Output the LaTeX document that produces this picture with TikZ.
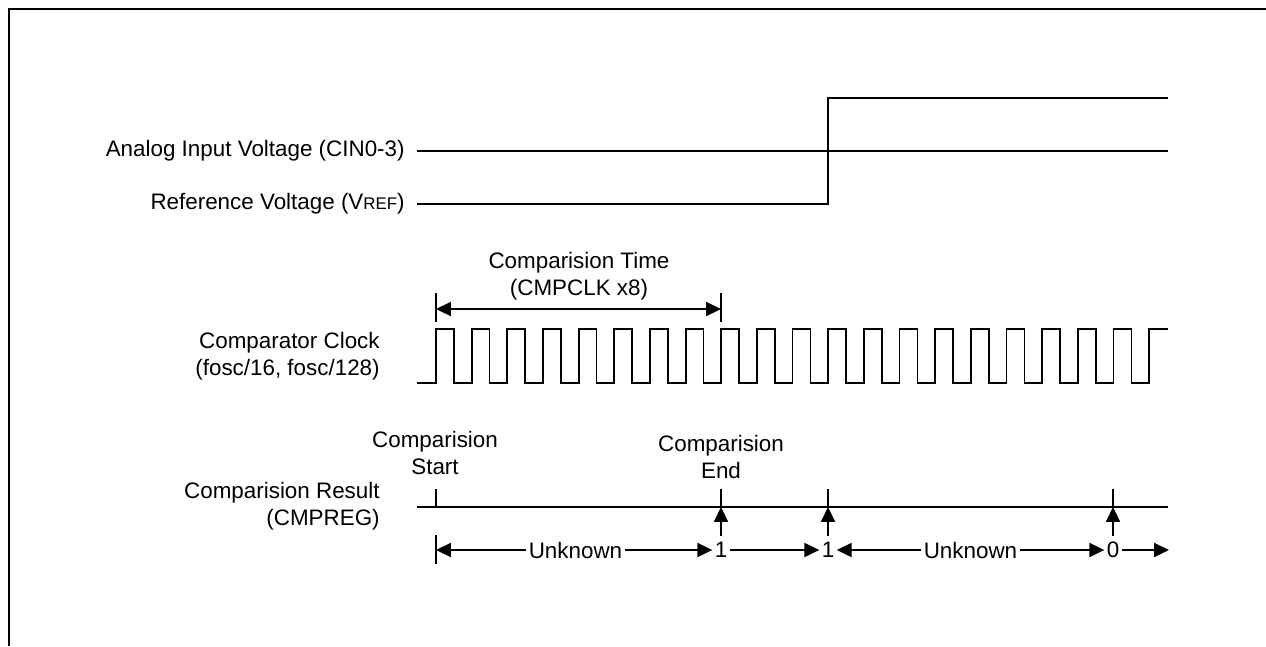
\documentclass[tikz,border=0pt]{standalone}
\usepackage{fontspec}
\setmainfont{Liberation Sans}
\usetikzlibrary{arrows.meta}

\begin{document}
\begin{tikzpicture}[
  x=0.02cm, y=-0.02cm, font=\fontsize{12.75}{15.3}\selectfont,
  lbl/.style={anchor=east, align=right, inner sep=0pt},
  ttl/.style={align=center, inner sep=0pt},
  num/.style={inner sep=1.2pt},
  sig/.style={line width=1pt},
  arr/.style={-{Triangle[length=8.5pt, width=8pt]}, line width=1pt},
  dim/.style={{Triangle[length=8.5pt, width=8pt]}-{Triangle[length=8.5pt, width=8pt]}, line width=1pt}
]
\useasboundingbox (0,0) rectangle (1266,646);

%% Frame
\draw[line width=1.4pt] (1266,9) -- (9,9) -- (9,646);

%% Input and reference voltage
\node[lbl] (ain) at (405,151) {Analog Input Voltage (CIN0-3)};
\node[lbl] (vref) at (405,204) {Reference Voltage (V{\fontsize{9.6}{11}\selectfont REF})};
\draw[sig] (417,151) -- (1168,151);
\draw[sig] (417,204) -- (828,204) -- (828,98) -- (1168,98);

%% Comparision time
\node[ttl] (ctime) at (579,276) {Comparision Time\\(CMPCLK x8)};
\coordinate (ts) at (436,309);
\coordinate (te) at (721,309);
\draw[sig] (436,293) -- (436,322);
\draw[sig] (721,293) -- (721,322);
\draw[dim] (ts) -- (te);

%% Comparator clock
\node[lbl] (clk) at (380,356) {Comparator Clock\\(fosc/16, fosc/128)};
\draw[sig] (417,383) -- (436,383)
  \foreach \k in {1,...,20}{ -- ++(0,-54) -- ++(17.83,0) -- ++(0,54) -- ++(17.83,0) }
  -- ++(0,-54) -- (1168,329);

%% Comparision result
\node[lbl] (res) at (380,506) {Comparision Result\\(CMPREG)};
\node[ttl] (cstart) at (435,453) {Comparision\\Start};
\node[ttl] (cend) at (721,457) {Comparision\\End};
\draw[sig] (417,507) -- (1168,507);
\coordinate (mstart) at (436,507);
\coordinate (mend) at (721,507);
\coordinate (mone) at (828,507);
\coordinate (mzero) at (1113,507);
\foreach \m in {mstart,mend,mone,mzero}
  \draw[sig] (\m) -- ++(0,-18);

%% Result states
\draw[sig] (436,535) -- (436,564);
\coordinate (s0) at (436,550);
\coordinate (s9) at (1169,550);
\node[num] (unk1) at (575.5,550) {Unknown};
\node[num] (one1) at (721,550) {1};
\node[num] (one2) at (828,550) {1};
\node[num] (unk2) at (970.5,550) {Unknown};
\node[num] (zero) at (1113,550) {0};
\draw[arr] (unk1) -- (s0);
\draw[arr] (unk1) -- (one1);
\draw[arr] (one1) -- (one2);
\draw[arr] (unk2) -- (one2);
\draw[arr] (unk2) -- (zero);
\draw[arr] (zero) -- (s9);
\draw[arr] ([yshift=0.08cm]one1.north) -- (mend);
\draw[arr] ([yshift=0.08cm]one2.north) -- (mone);
\draw[arr] ([yshift=0.08cm]zero.north) -- (mzero);
\end{tikzpicture}
\end{document}
